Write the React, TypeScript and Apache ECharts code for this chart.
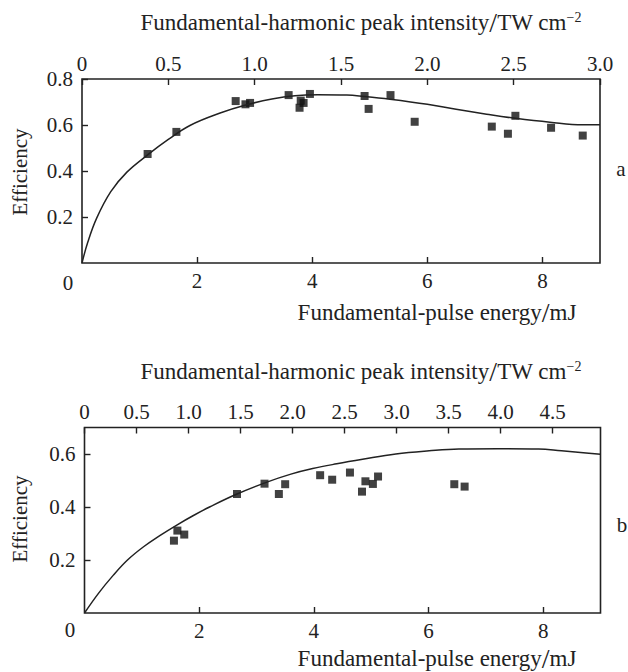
import React, { useEffect, useRef } from "react";
import * as echarts from "echarts";

// Panel a data (x: fundamental-pulse energy, mJ; y: efficiency)
const pointsA: [number, number][] = [
  [1.14, 0.474], [1.64, 0.57], [2.67, 0.704], [2.84, 0.69], [2.92, 0.696],
  [3.59, 0.73], [3.78, 0.675], [3.8, 0.706], [3.85, 0.696], [3.96, 0.735],
  [4.91, 0.726], [4.98, 0.67], [5.36, 0.73], [5.78, 0.614], [7.12, 0.593],
  [7.4, 0.562], [7.53, 0.64], [8.15, 0.588], [8.7, 0.554],
];
const curveA: [number, number][] = [
  [0, 0], [0.1, 0.09], [0.255, 0.195], [0.5, 0.31], [0.78, 0.395], [1.14, 0.47],
  [1.5, 0.537], [1.875, 0.598], [2.4, 0.652], [2.86, 0.688], [3.3, 0.713],
  [3.7, 0.727], [4.1, 0.731], [4.6, 0.73], [4.9, 0.724], [5.35, 0.712],
  [6.0, 0.69], [6.5, 0.668], [7.03, 0.647], [7.53, 0.629], [8.13, 0.612],
  [8.7, 0.601], [9.0, 0.601],
];

// Panel b data
const pointsB: [number, number][] = [
  [1.56, 0.273], [1.62, 0.311], [1.74, 0.296], [2.66, 0.449], [3.14, 0.488],
  [3.39, 0.449], [3.5, 0.486], [4.11, 0.52], [4.32, 0.503], [4.63, 0.53],
  [4.84, 0.458], [4.9, 0.497], [5.03, 0.487], [5.12, 0.515], [6.45, 0.486],
  [6.63, 0.477],
];
const curveB: [number, number][] = [
  [0, 0], [0.25, 0.076], [0.5, 0.142], [0.75, 0.2], [1.03, 0.25],
  [1.32, 0.293], [1.61, 0.332], [1.9, 0.368], [2.19, 0.401], [2.65, 0.448],
  [3.17, 0.493], [3.6, 0.524], [3.98, 0.545], [4.4, 0.563], [4.85, 0.58],
  [5.43, 0.6], [6.01, 0.612], [6.53, 0.619], [7.2, 0.62], [7.92, 0.619],
  [8.32, 0.612], [8.7, 0.605], [9.0, 0.599],
];

const xRange = { min: 0, max: 9, interval: 2 };
const topRangeA = { min: 0, max: 3.0, interval: 0.5 };
const topRangeB = { min: 0, max: 4.96, interval: 0.5 };
const yRangeA = { min: 0, max: 0.8, interval: 0.2 };
const yRangeB = { min: 0, max: 0.7, interval: 0.2 };

const topTitle = "Fundamental-harmonic peak intensity{sl|/}TW cm{sup|−2}";
const bottomTitle = "Fundamental-pulse energy{sl|/}mJ";
const yTitle = "Efficiency";
const panelLabels = ["a", "b"];

const FONT = "Liberation Serif";
const INK = "#222";

export default function App() {
  const ref = useRef<HTMLDivElement>(null);

  useEffect(() => {
    if (!ref.current) return;
    const chart = echarts.init(ref.current, undefined, { renderer: "svg" });

    const tickStyle = { show: true, inside: true, length: 6, lineStyle: { color: INK, width: 1.4 } };
    const labelBase = { color: INK, fontFamily: FONT, fontSize: 21 };

    const xBottom = (gridIndex: number) => ({
      type: "value",
      gridIndex,
      position: "bottom",
      ...xRange,
      axisLine: { show: false },
      axisTick: tickStyle,
      splitLine: { show: false },
      axisLabel: { ...labelBase, margin: 7, showMinLabel: false, showMaxLabel: false },
    });
    const xTop = (gridIndex: number, r: any) => ({
      type: "value",
      gridIndex,
      position: "top",
      ...r,
      axisLine: { show: false },
      axisTick: tickStyle,
      splitLine: { show: false },
      axisLabel: {
        ...labelBase,
        margin: 5,
        showMaxLabel: r.max === 3.0,
        formatter: (v: number) => (v === 0 ? "0" : v.toFixed(1)),
      },
    });
    const yLeft = (gridIndex: number, r: any) => ({
      type: "value",
      gridIndex,
      ...r,
      axisLine: { show: false },
      axisTick: tickStyle,
      splitLine: { show: false },
      axisLabel: {
        ...labelBase,
        margin: 9,
        showMinLabel: false,
        showMaxLabel: r.max === 0.8,
        formatter: (v: number) => v.toFixed(1),
      },
    });

    const richTitle = {
      sl: { fontSize: 28, fontFamily: FONT, fill: INK, color: INK, lineHeight: 26 },
      sup: { fontSize: 14, fontFamily: FONT, fill: INK, color: INK, padding: [0, 0, 10, 0], lineHeight: 14 },
    };
    const txt = (x: number, y: number, text: string, size = 23, extra: any = {}) => ({
      type: "text",
      x,
      y,
      ...extra,
      style: {
        text,
        fontSize: size,
        fontFamily: FONT,
        fill: INK,
        textAlign: "center",
        align: "center",
        textVerticalAlign: "middle",
        verticalAlign: "middle",
        lineHeight: 26,
        rich: richTitle,
      },
    });

    const gridStyle = { show: true, borderColor: INK, borderWidth: 1.6, backgroundColor: "transparent" };

    chart.setOption({
      animation: false,
      grid: [
        { left: 82, top: 79, width: 518, height: 184, ...gridStyle },
        { left: 84.5, top: 427.5, width: 516, height: 185.5, ...gridStyle },
      ],
      xAxis: [xBottom(0), xTop(0, topRangeA), xBottom(1), xTop(1, topRangeB)],
      yAxis: [yLeft(0, yRangeA), yLeft(1, yRangeB)],
      series: [
        {
          type: "line", xAxisIndex: 0, yAxisIndex: 0, data: curveA, smooth: 0.4,
          showSymbol: false, lineStyle: { color: INK, width: 1.5 },
        },
        {
          type: "scatter", xAxisIndex: 0, yAxisIndex: 0, data: pointsA,
          symbol: "rect", symbolSize: 8, itemStyle: { color: "#111" },
        },
        {
          type: "line", xAxisIndex: 2, yAxisIndex: 1, data: curveB, smooth: 0.4,
          showSymbol: false, lineStyle: { color: INK, width: 1.5 },
        },
        {
          type: "scatter", xAxisIndex: 2, yAxisIndex: 1, data: pointsB,
          symbol: "rect", symbolSize: 8, itemStyle: { color: "#111" },
        },
      ],
      graphic: [
        txt(361, 22, topTitle),
        txt(437, 312, bottomTitle),
        txt(68, 283, "0", 21),
        txt(621, 169, panelLabels[0], 21),
        txt(20, 172, yTitle, 21, { rotation: Math.PI / 2 }),
        txt(361, 371, topTitle),
        txt(437, 658, bottomTitle),
        txt(70, 630, "0", 21),
        txt(622, 525, panelLabels[1], 21),
        txt(20, 519, yTitle, 21, { rotation: Math.PI / 2 }),
      ],
    });

    return () => chart.dispose();
  }, []);

  return (
    <div
      ref={ref}
      style={{ position: "fixed", left: 0, top: 0, width: 628, height: 672, background: "#fff" }}
    />
  );
}
